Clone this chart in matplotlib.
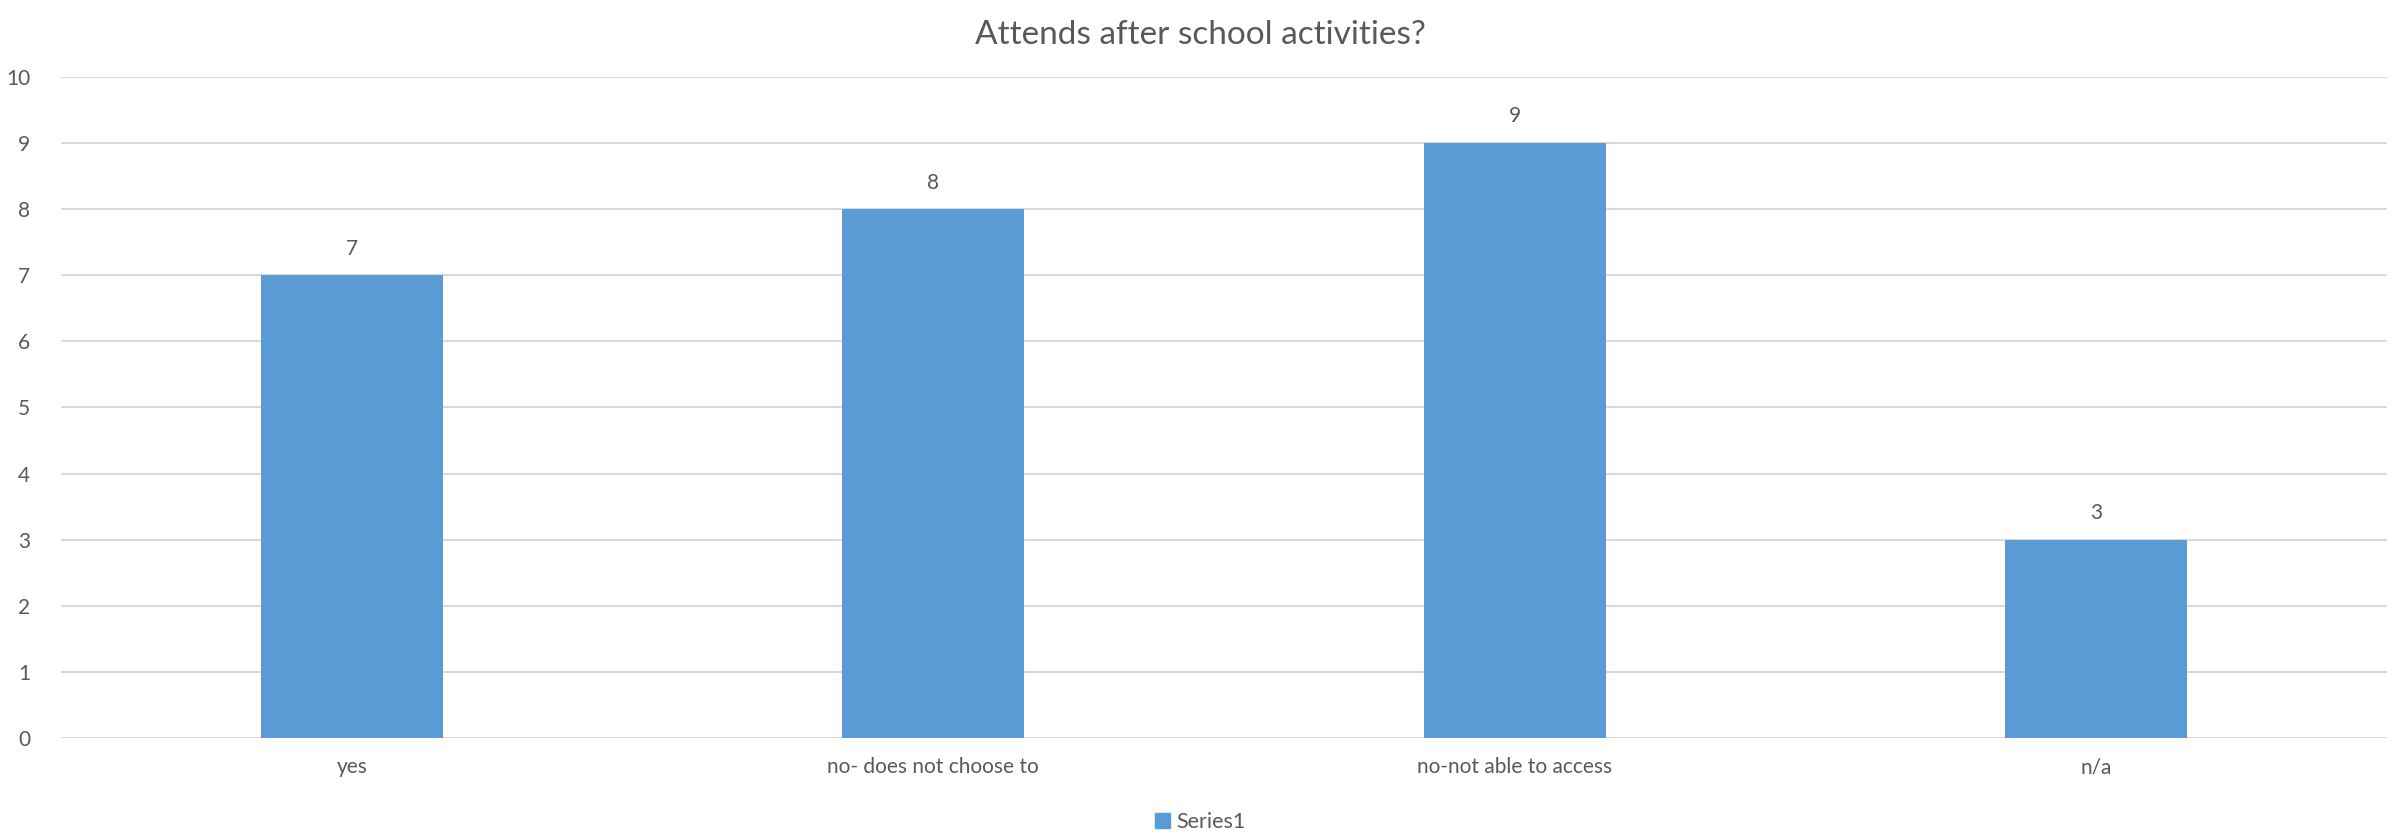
import matplotlib.pyplot as plt
from matplotlib.patches import Patch

categories = ['yes', 'no- does not choose to', 'no-not able to access', 'n/a']
values = [7, 8, 9, 3]
series_name = 'Series1'

text_color = '#595959'
bar_color = '#5B9BD5'
grid_color = '#D9D9D9'

plt.rcParams['font.family'] = ['Lato', 'DejaVu Sans']

fig = plt.figure(figsize=(24, 8.34), dpi=100)
ax = fig.add_axes([0.0254, 0.1151, 0.9692, 0.7926])

x = range(len(categories))
bars = ax.bar(x, values, width=0.3125, color=bar_color, zorder=3)

for b, v in zip(bars, values):
    ax.annotate(str(v), (b.get_x() + b.get_width() / 2, v), xytext=(0, 12),
                textcoords='offset points', ha='center', va='bottom',
                fontsize=15, color=text_color)

ax.set_xlim(-0.5, len(categories) - 0.5)
ax.set_ylim(0, 10)
ax.set_yticks(range(0, 11))
ax.set_xticks(list(x))
ax.set_xticklabels(categories)
ax.tick_params(axis='both', length=0, labelsize=15, labelcolor=text_color)
ax.tick_params(axis='x', pad=14)
ax.tick_params(axis='y', pad=22)
ax.grid(axis='y', color=grid_color, linewidth=1.5, zorder=0)
for s in ax.spines.values():
    s.set_visible(False)

fig.text(0.5, 0.958, 'Attends after school activities?', ha='center', va='center',
         fontsize=24, color=text_color)

fig.legend(handles=[Patch(color=bar_color, label=series_name)], loc='center',
           bbox_to_anchor=(0.5, 0.014), frameon=False, fontsize=15.5,
           labelcolor=text_color, handlelength=0.7, handleheight=0.7, handletextpad=0.3)

fig.savefig('out.png', dpi=100)
